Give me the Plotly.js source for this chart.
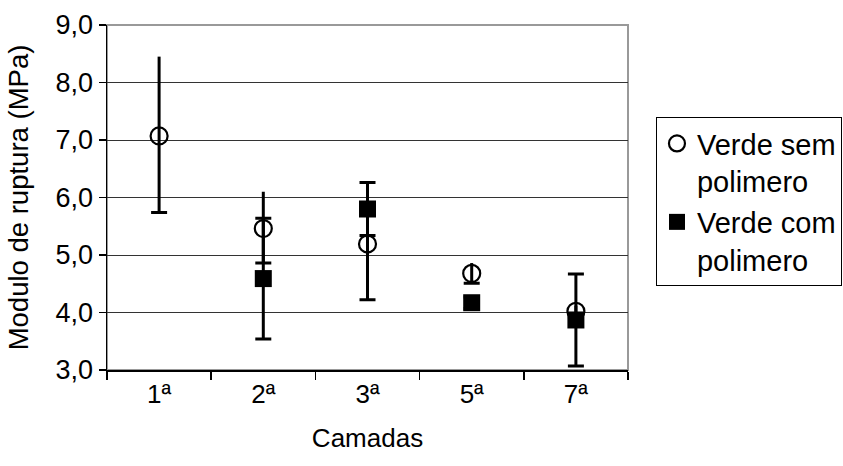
<!DOCTYPE html>
<html>
<head>
<meta charset="utf-8">
<script src="https://cdn.plot.ly/plotly-3.0.1.min.js"></script>
<style>html,body{margin:0;padding:0;background:#fff;}#chart{width:843px;height:466px;}</style>
</head>
<body>
<div id="chart"></div>
<script>
// Categories (camadas)
const camadas = ['1ª', '2ª', '3ª', '5ª', '7ª'];

// Verde sem polimero (open circles)
const semNome = 'Verde sem<br>polimero';
const semY = [7.07, 5.46, 5.19, 4.68, 4.02];
const semErrPlus = [1.38, 0.64, 0.97, 0.18, 0.10];
const semErrMinus = [1.33, 0.60, 0.97, 0.17, 0.10];

// Verde com polimero (filled squares)
const comNome = 'Verde com<br>polimero';
const comY = [null, 4.59, 5.80, 4.17, 3.87];
const comErr = [null, 1.05, 0.46, 0.10, 0.80];

// Y axis ticks
const yTicks = [3, 4, 5, 6, 7, 8, 9];

const FONT = 'Liberation Sans, Arial, sans-serif';

// lower-end positions of the circle series' error bars (where the end cap is drawn)
const semLow = semY.map((v, i) => v - semErrMinus[i]);
const zeros = semY.map(() => 0);

const traces = [
  {
    type: 'scatter', mode: 'markers', name: semNome,
    x: camadas, y: semY,
    marker: {symbol: 'circle-open', size: 17, color: '#000', line: {width: 2.2, color: '#000'}},
    error_y: {type: 'data', symmetric: false, array: semErrPlus, arrayminus: semErrMinus,
              color: '#000', thickness: 3, width: 0},
    cliponaxis: false
  },
  {
    type: 'scatter', mode: 'markers', name: 'cap', showlegend: false, hoverinfo: 'skip',
    x: camadas, y: semLow,
    marker: {size: 1, opacity: 0, color: '#000'},
    error_y: {type: 'data', array: zeros, color: '#000', thickness: 3, width: 8},
    cliponaxis: false
  },
  {
    type: 'scatter', mode: 'markers', name: comNome,
    x: camadas, y: comY,
    marker: {symbol: 'square', size: 17, color: '#000'},
    error_y: {type: 'data', array: comErr, color: '#000', thickness: 3, width: 8},
    cliponaxis: false
  }
];

const layout = {
  width: 843, height: 466,
  paper_bgcolor: '#fff', plot_bgcolor: '#fff',
  separators: ',.',
  margin: {l: 107, r: 215, t: 25, b: 96, autoexpand: false},
  font: {family: FONT, color: '#000', size: 26},
  showlegend: true,
  legend: {
    x: 1.0537, y: 0.733, xanchor: 'left', yanchor: 'top', xref: 'paper', yref: 'paper',
    bgcolor: '#fff', bordercolor: '#000', borderwidth: 1,
    font: {family: FONT, size: 29, color: '#000'},
    valign: 'top', tracegroupgap: 0, itemsizing: 'trace'
  },
  xaxis: {
    type: 'category', range: [-0.5, 4.5], fixedrange: true,
    showgrid: false, zeroline: false,
    showline: true, linecolor: '#000', linewidth: 1.5,
    ticks: 'outside', ticklen: 8, tickwidth: 1.5, tickcolor: '#000',
    tickson: 'boundaries',
    tickfont: {family: FONT, size: 26, color: '#000'},
    title: {text: 'Camadas', font: {family: FONT, size: 26, color: '#000'}, standoff: 21}
  },
  yaxis: {
    range: [3, 9], tickvals: yTicks, tickformat: '.1f', fixedrange: true,
    showgrid: true, gridcolor: '#333', gridwidth: 1, zeroline: false,
    showline: true, linecolor: '#000', linewidth: 1.5,
    ticks: 'outside', ticklen: 7, tickwidth: 1.5, tickcolor: '#000',
    tickfont: {family: FONT, size: 27, color: '#000'},
    title: {text: 'Modulo de ruptura (MPa)', font: {family: FONT, size: 27.5, color: '#000'}, standoff: 19}
  },
  shapes: [
    {type: 'rect', xref: 'paper', yref: 'paper', x0: 0, x1: 1, y0: 0, y1: 1,
     line: {color: '#999', width: 2}, layer: 'below'}
  ]
};

Plotly.newPlot('chart', traces, layout, {staticPlot: true, displayModeBar: false});
</script>
</body>
</html>
